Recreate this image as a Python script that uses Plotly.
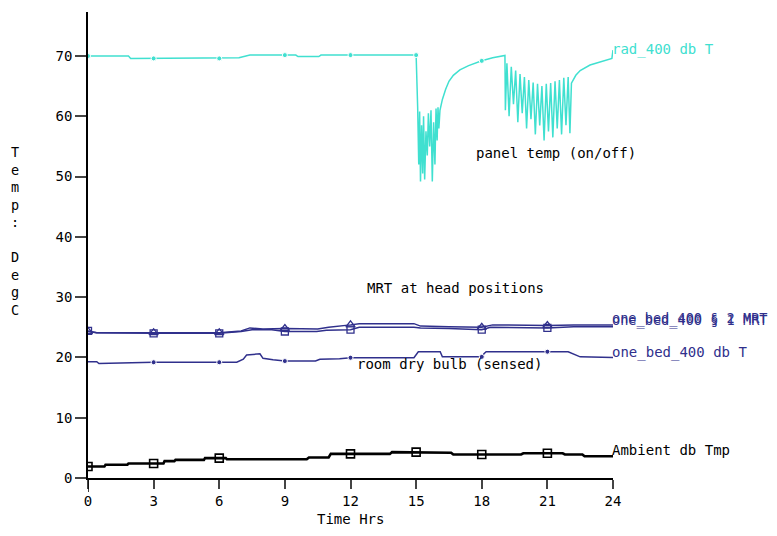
import plotly.graph_objects as go

# ---------------- data ----------------
X_TICKS = [0, 3, 6, 9, 12, 15, 18, 21, 24]
Y_TICKS = [0, 10, 20, 30, 40, 50, 60, 70]
MARK_HOURS = [0, 3, 6, 9, 12, 15, 18, 21]

rad_hours = [0, 1.85, 1.95, 3, 6, 6.9, 7.4, 9, 9.5, 9.6, 10.55, 10.65, 12, 15,
             15.07, 15.12, 15.16, 15.20, 15.25, 15.30, 15.34, 15.39, 15.45, 15.51,
             15.56, 15.62, 15.68, 15.74, 15.80, 15.86, 15.91, 15.96, 16.00, 16.04, 16.09,
             16.2, 16.35, 16.5, 16.7, 17.0, 17.4, 18, 18.5, 19.06,
             19.08, 19.15, 19.25, 19.35, 19.45, 19.55, 19.65, 19.75, 19.85, 19.95,
             20.05, 20.15, 20.25, 20.35, 20.45, 20.55, 20.65, 20.75, 20.85, 20.95,
             21.05, 21.15, 21.25, 21.35, 21.45, 21.55, 21.65, 21.75, 21.85, 21.95, 22.03,
             22.1, 22.3, 22.5, 22.95, 23.5, 23.95, 24.0]
rad_vals = [70.0, 70.0, 69.6, 69.6, 69.6, 69.7, 70.15, 70.15, 70.15, 69.9, 69.9, 70.15, 70.15, 70.15,
            61.5, 52.0, 60.8, 49.2, 58.5, 50.5, 60.0, 49.5, 57.5, 53.5,
            60.5, 55.0, 61.0, 49.2, 59.0, 52.0, 61.3, 56.0, 61.5, 58.0, 61.0,
            62.8, 64.5, 65.8, 66.8, 67.7, 68.4, 69.2, 69.7, 70.1,
            61.0, 68.8, 60.0, 68.2, 62.0, 67.6, 59.0, 67.0, 60.5, 66.5,
            58.0, 66.0, 59.5, 65.6, 57.0, 65.4, 58.5, 65.0, 56.0, 65.4,
            57.5, 65.5, 56.5, 65.8, 58.0, 66.0, 57.0, 66.4, 58.5, 66.5, 57.2,
            65.5, 66.8, 67.6, 68.5, 69.1, 69.6, 71.0]

mrt1_hours = [0, 0.4, 3, 6, 7.0, 7.4, 8.0, 9, 10.5, 11.0, 12, 12.4, 14.9, 15.2, 16.5, 18, 18.5, 21, 22.2, 24]
mrt1_vals = [24.3, 24.1, 24.1, 24.1, 24.4, 24.9, 24.7, 24.8, 24.7, 25.0, 25.4, 25.6, 25.6, 25.2, 25.1, 25.0, 25.4, 25.3, 25.4, 25.4]

mrt2_hours = [0, 0.4, 3, 6, 7.0, 7.5, 8.4, 9, 10.45, 10.9, 12, 12.4, 14.9, 15.2, 16.5, 18, 18.4, 21, 22.2, 24]
mrt2_vals = [24.4, 24.1, 24.0, 24.0, 24.3, 24.6, 24.6, 24.3, 24.3, 24.5, 24.6, 25.0, 25.0, 24.9, 24.8, 24.6, 25.0, 24.9, 25.1, 25.1]

dbt_hours = [0, 0.4, 0.5, 3, 6, 6.8, 7.1, 7.25, 7.86, 8.0, 8.46, 9, 10.4, 10.6, 11.5, 12, 14.9, 15.1,
             16.1, 16.2, 17.9, 18, 18.1, 18.2, 21, 21.95, 22.5, 24]
dbt_vals = [19.3, 19.3, 19.0, 19.2, 19.2, 19.2, 19.7, 20.4, 20.6, 19.85, 19.6, 19.4, 19.4, 19.7, 19.8, 19.95, 19.95, 20.95,
            20.95, 20.1, 20.1, 20.1, 20.6, 20.95, 20.95, 20.95, 20.1, 20.0]

amb_hours = [0, 0.75, 0.8, 1.8, 1.85, 3, 3.45, 3.5, 3.95, 4.0, 5.3, 5.35, 6, 6.3, 6.35, 10.0, 10.1, 11.0, 11.1, 12,
             13.8, 13.9, 15, 15.5, 15.6, 16.6, 16.7, 18, 19.8, 19.9, 21, 21.7, 21.8, 22.6, 22.7, 24]
amb_vals = [1.9, 1.9, 2.2, 2.2, 2.4, 2.4, 2.4, 2.8, 2.8, 3.0, 3.0, 3.3, 3.3, 3.3, 3.1, 3.1, 3.4, 3.4, 4.0, 4.0,
            4.0, 4.3, 4.3, 4.3, 4.2, 4.2, 3.9, 3.9, 3.9, 4.1, 4.1, 4.1, 3.9, 3.9, 3.6, 3.6]

SERIES_LABELS = ["rad_400 db T", "one_bed_400 § 1 MRT", "one_bed_400 § 2 MRT",
                 "one_bed_400 db T", "Ambient db Tmp"]
NOTES = ["panel temp (on/off)", "MRT at head positions", "room dry bulb (sensed)"]
X_TITLE = "Time Hrs"
Y_TITLE = "Temp: DegC"

# ---------------- style ----------------
TURQ = "#40e0d0"
NAVY = "#30308c"
BLACK = "#000000"
FONT = "DejaVu Sans Mono"


def msize(hours, size, hrs=MARK_HOURS):
    return [size if h in hrs else 0 for h in hours]


def mop(hours, hrs=MARK_HOURS):
    return [1 if h in hrs else 0 for h in hours]


fig = go.Figure()

rad_marks = [0, 3, 6, 9, 12, 15, 18]
fig.add_trace(go.Scatter(x=rad_hours, y=rad_vals, mode="lines+markers",
                         line=dict(color=TURQ, width=1.5),
                         marker=dict(symbol="circle", size=msize(rad_hours, 5, rad_marks),
                                     opacity=mop(rad_hours, rad_marks), color=TURQ)))

fig.add_trace(go.Scatter(x=mrt2_hours, y=mrt2_vals, mode="lines+markers",
                         line=dict(color=NAVY, width=1.5),
                         marker=dict(symbol="square-open", size=msize(mrt2_hours, 7),
                                     opacity=mop(mrt2_hours), color=NAVY, line=dict(width=1.3))))
fig.add_trace(go.Scatter(x=mrt1_hours, y=mrt1_vals, mode="lines+markers",
                         line=dict(color=NAVY, width=1.5),
                         marker=dict(symbol="triangle-up-open", size=msize(mrt1_hours, 8),
                                     opacity=mop(mrt1_hours), color=NAVY, line=dict(width=1.3))))

fig.add_trace(go.Scatter(x=dbt_hours, y=dbt_vals, mode="lines+markers",
                         line=dict(color=NAVY, width=1.5),
                         marker=dict(symbol="circle", size=msize(dbt_hours, 5, [3, 6, 9, 12, 15, 18, 21]),
                                     opacity=mop(dbt_hours, [3, 6, 9, 12, 15, 18, 21]), color=NAVY)))

fig.add_trace(go.Scatter(x=amb_hours, y=amb_vals, mode="lines+markers",
                         line=dict(color=BLACK, width=2.6),
                         marker=dict(symbol="square-open", size=msize(amb_hours, 8),
                                     opacity=mop(amb_hours), color=BLACK, line=dict(width=1.6))))

ann = []
label_pos = [(71.0, TURQ, 14), (26.2, NAVY, 13.6), (26.4, NAVY, 13.6), (20.9, NAVY, 14), (4.6, BLACK, 14)]
for text, (yv, col, fs) in zip(SERIES_LABELS, label_pos):
    ann.append(dict(x=24, y=yv, xref="x", yref="y", text=text, showarrow=False,
                    xanchor="left", yanchor="middle", xshift=-3,
                    font=dict(family=FONT, size=fs, color=col)))

note_pos = [(17.78, 53.9), (12.8, 31.5), (12.34, 18.9)]
for text, (xv, yv) in zip(NOTES, note_pos):
    ann.append(dict(x=xv, y=yv, xref="x", yref="y", text=text, showarrow=False,
                    xanchor="left", yanchor="middle", xshift=-3,
                    font=dict(family=FONT, size=14, color=BLACK)))

# vertical stacked y title
ann.append(dict(x=-73 / 525, y=0.53, xref="paper", yref="paper",
                text="<br>".join(ch if ch != " " else " " for ch in Y_TITLE),
                showarrow=False, xanchor="center", yanchor="middle",
                font=dict(family=FONT, size=13.5, color=BLACK)))
# x title
ann.append(dict(x=0.5, y=-0.088, xref="paper", yref="paper", text=X_TITLE,
                showarrow=False, xanchor="center", yanchor="middle",
                font=dict(family=FONT, size=14, color=BLACK)))

# page body has an 8px margin, so the figure is shifted by 8px
fig.update_layout(
    width=769, height=520,
    margin=dict(l=80, r=164, t=4, b=50, autoexpand=False),
    paper_bgcolor="white", plot_bgcolor="white",
    showlegend=False,
    annotations=ann,
    font=dict(family=FONT, size=14, color=BLACK),
    shapes=[dict(type="line", xref="x", yref="paper", x0=0, x1=0, y0=0, y1=-0.03,
                 line=dict(color=BLACK, width=1.5))],
)
fig.update_xaxes(range=[0, 24], tickvals=X_TICKS, ticks="outside", ticklen=9, tickwidth=1.5,
                 showline=True, linecolor=BLACK, linewidth=1.5, showgrid=False, zeroline=False,
                 automargin=False,
                 tickfont=dict(family=FONT, size=14, color=BLACK))
fig.update_yaxes(range=[0, 77.3], tickvals=Y_TICKS, ticks="outside", ticklen=11, tickwidth=1.5,
                 showline=True, linecolor=BLACK, linewidth=1.5, showgrid=False, zeroline=False,
                 automargin=False,
                 tickfont=dict(family=FONT, size=14, color=BLACK))

fig.write_html("out.html")
